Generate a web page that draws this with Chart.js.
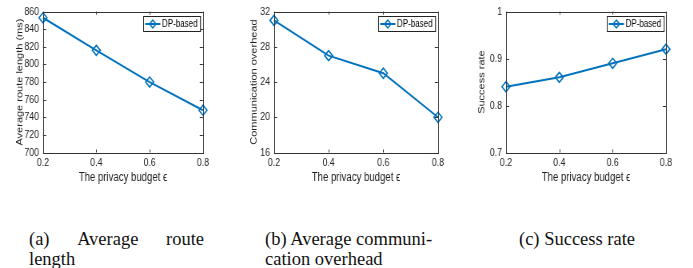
<!DOCTYPE html>
<html>
<head>
<meta charset="utf-8">
<script src="https://cdn.jsdelivr.net/npm/chart.js@4.4.1/dist/chart.umd.min.js"></script>
<style>
  body { margin: 0; background: #fff; width: 693px; height: 268px; position: relative; overflow: hidden; }
  .plot { position: absolute; top: 0; height: 190px; transform-origin: 0 0; }
  .cap { position: absolute; top: 229px; font-family: "Liberation Serif", serif; font-size: 18.5px; line-height: 20px; color: #111; white-space: nowrap; }
  .just { display: flex; justify-content: space-between; width: 175px; }
</style>
</head>
<body>
<div class="plot" style="left:0"><canvas id="c1"></canvas></div>
<div class="plot" style="left:231px"><canvas id="c2"></canvas></div>
<div class="plot" style="left:462px"><canvas id="c3"></canvas></div>

<div class="cap" style="left:29px"><div class="just"><span>(a)</span><span>Average</span><span>route</span></div>length</div>
<div class="cap" style="left:265px">(b) Average communi-<br>cation overhead</div>
<div class="cap" style="left:519px">(c) Success rate</div>

<script>
// data
var privacyBudget = ['0.2', '0.4', '0.6', '0.8'];
var routeLength = [853, 816, 780, 748];
var commOverhead = [31, 27, 25, 20];
var successRate = [0.84, 0.86, 0.89, 0.92];

var routeTicks = [700, 720, 740, 760, 780, 800, 820, 840, 860];
var overheadTicks = [16, 20, 24, 28, 32];
var rateTicks = [0.7, 0.8, 0.9, 1];
var rateTickLabels = ['0.7', '0.8', '0.9', '1'];

var seriesName = 'DP-based';
var xTitle = 'The privacy budget \u03f5';

var SX = 0.8;          // the figures are squeezed sideways
var blue = '#0072BD';
var axisColor = '#333';
var sans = '"Liberation Sans", Arial, sans-serif';

// inward ticks, box round the plot and the legend
var matlabAxes = {
  id: 'matlabAxes',
  afterDraw: function (chart) {
    var ctx = chart.ctx, a = chart.chartArea;
    var xs = chart.scales.x, ys = chart.scales.y;
    ctx.save();
    ctx.strokeStyle = axisColor;
    ctx.lineWidth = 1;
    ctx.strokeRect(Math.round(a.left) + 0.5, Math.round(a.top) + 0.5,
                   Math.round(a.right - a.left), Math.round(a.bottom - a.top));
    ctx.beginPath();
    xs.ticks.forEach(function (t, i) {
      var px = Math.round(xs.getPixelForTick(i)) + 0.5;
      ctx.moveTo(px, a.bottom); ctx.lineTo(px, a.bottom - 3);
      ctx.moveTo(px, a.top); ctx.lineTo(px, a.top + 3);
    });
    ys.ticks.forEach(function (t) {
      var py = Math.round(ys.getPixelForValue(t.value)) + 0.5;
      ctx.moveTo(a.left, py); ctx.lineTo(a.left + 4, py);
      ctx.moveTo(a.right, py); ctx.lineTo(a.right - 4, py);
    });
    ctx.stroke();

    // legend box, top right inside the axes
    var w = 57 / SX, h = 15;
    var bx = Math.round(a.right - 2.5 / SX - w) + 0.5, by = Math.round(a.top + 4) + 0.5;
    ctx.fillStyle = '#fff';
    ctx.fillRect(bx, by, w, h);
    ctx.strokeStyle = '#222';
    ctx.strokeRect(bx, by, w, h);
    var ly = by + h / 2;
    ctx.strokeStyle = blue;
    ctx.lineWidth = 2;
    ctx.beginPath();
    ctx.moveTo(bx + 2, ly); ctx.lineTo(bx + 21, ly);
    ctx.stroke();
    ctx.lineWidth = 1.5;
    ctx.beginPath();
    var cx = bx + 11.5, r = 4;
    ctx.moveTo(cx, ly - r); ctx.lineTo(cx + r, ly); ctx.lineTo(cx, ly + r); ctx.lineTo(cx - r, ly);
    ctx.closePath();
    ctx.stroke();
    ctx.fillStyle = '#000';
    ctx.font = '10px ' + sans;
    ctx.textBaseline = 'middle';
    ctx.fillText(seriesName, bx + 23, ly + 0.5);
    ctx.restore();
  }
};

function makeChart(id, values, ticks, tickLabels, yTitle, g) {
  var cw = Math.round(231 / SX), ch = 190;
  var canvas = document.getElementById(id);
  canvas.width = cw; canvas.height = ch;
  canvas.parentNode.style.width = cw + 'px';
  canvas.parentNode.style.transform = 'scaleX(' + SX + ')';

  var titleFont = 11, lh = titleFont * 1.2;
  var padLeft = g.titleX / SX - lh / 2;
  var left = g.left / SX, right = g.right / SX;
  var top = 9.5, bottom = 152.5;
  var xBottom = 178 + 12 * 1.2 / 2;

  return new Chart(canvas, {
    type: 'line',
    data: {
      labels: privacyBudget,
      datasets: [{
        label: seriesName,
        data: values,
        borderColor: blue,
        borderWidth: 2,
        tension: 0,
        pointStyle: 'rectRot',
        pointRadius: 5,
        pointBorderWidth: 1.6,
        pointBorderColor: blue,
        pointBackgroundColor: 'rgba(0,0,0,0)'
      }]
    },
    options: {
      responsive: false,
      animation: false,
      layout: { padding: { left: padLeft, right: cw - right, top: top, bottom: ch - xBottom } },
      plugins: { legend: { display: false }, tooltip: { enabled: false } },
      scales: {
        x: {
          type: 'category',
          offset: false,
          grid: { display: false, drawTicks: false },
          border: { display: false },
          ticks: { color: '#222', font: { family: sans, size: 11 }, padding: 4, maxRotation: 0, autoSkip: false },
          title: { display: true, text: xTitle, color: '#222', font: { family: sans, size: 12 }, padding: 0 },
          afterFit: function (s) { s.height = xBottom - bottom; }
        },
        y: {
          min: ticks[0],
          max: ticks[ticks.length - 1],
          grid: { display: false, drawTicks: false },
          border: { display: false },
          afterBuildTicks: function (s) { s.ticks = ticks.map(function (v) { return { value: v }; }); },
          ticks: {
            color: '#222', font: { family: sans, size: 11 }, padding: 5,
            callback: function (v) { var i = ticks.indexOf(v); return tickLabels[i]; }
          },
          title: { display: true, text: yTitle, color: '#222', font: { family: sans, size: titleFont }, padding: 0 },
          afterFit: function (s) { s.width = left - padLeft; }
        }
      }
    },
    plugins: [matlabAxes]
  });
}

makeChart('c1', routeLength, routeTicks, routeTicks.map(String), 'Average route length (ms)',
          { left: 43, right: 203, titleX: 20 });
makeChart('c2', commOverhead, overheadTicks, overheadTicks.map(String), 'Communication overhead',
          { left: 43, right: 207, titleX: 23 });
makeChart('c3', successRate, rateTicks, rateTickLabels, 'Success rate',
          { left: 44, right: 204, titleX: 20 });
</script>
</body>
</html>
